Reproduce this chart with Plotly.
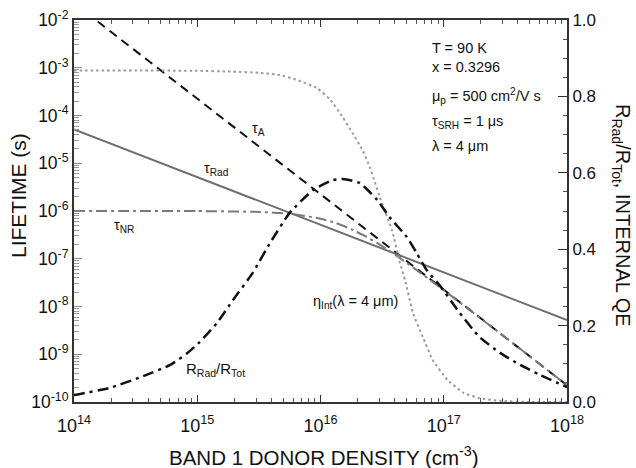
import plotly.graph_objects as go

# ---------------- data ----------------
# Auger lifetime tau_A (left axis, s) vs log10 donor density
tauA_logN = [14.0, 15.0, 16.0, 17.0, 18.0]
tauA_vals = [2.25e-2, 2.25e-4, 2.25e-6, 2.25e-8, 2.25e-10]

# radiative lifetime tau_Rad (left axis, s)
tauRad_logN = [14.0, 15.0, 16.0, 17.0, 18.0]
tauRad_vals = [5.1e-5, 5.1e-6, 5.1e-7, 5.1e-8, 5.2e-9]

# non-radiative lifetime tau_NR (left axis, s)
tauNR_logN = [14.0, 14.5, 15.0, 15.5, 15.75, 16.0, 16.125, 16.25, 16.375, 16.5,
              16.625, 16.75, 17.0, 17.5, 18.0]
tauNR_vals = [1.0e-6, 1.0e-6, 0.996e-6, 0.957e-6, 0.877e-6, 0.69e-6, 5.6e-7, 4.15e-7,
              2.86e-7, 1.84e-7, 1.12e-7, 6.6e-8, 2.2e-8, 2.25e-9, 2.25e-10]

# R_Rad / R_Tot (right axis)
ratio_logN = [14.0, 14.05, 14.29, 14.54, 14.78, 14.92, 15.02, 15.16, 15.29, 15.45,
              15.59, 15.75, 15.94, 16.10, 16.18, 16.32, 16.46, 16.56, 16.70, 16.78,
              16.86, 16.97, 17.13, 17.29, 17.46, 17.62, 17.78, 18.0]
ratio_vals = [0.018, 0.021, 0.037, 0.065, 0.097, 0.128, 0.157, 0.207, 0.267, 0.338,
              0.416, 0.495, 0.555, 0.581, 0.584, 0.573, 0.529, 0.484, 0.432, 0.390,
              0.346, 0.304, 0.233, 0.170, 0.128, 0.097, 0.071, 0.039]

# internal QE eta_Int (right axis)
eta_logN = [14.0, 14.5, 15.0, 15.27, 15.5, 15.67, 15.81, 15.97, 16.08, 16.18, 16.26,
            16.34, 16.40, 16.43, 16.48, 16.58, 16.645, 16.686, 16.75, 16.83, 16.91,
            17.03, 17.16, 17.29, 17.46, 17.70, 18.0]
eta_vals = [0.868, 0.868, 0.867, 0.865, 0.862, 0.856, 0.843, 0.822, 0.791, 0.746, 0.704,
            0.660, 0.615, 0.586, 0.537, 0.450, 0.364, 0.319, 0.233, 0.170, 0.110,
            0.058, 0.024, 0.010, 0.003, 0.0, 0.0]

# tick labels
x_tick_exp = [14, 15, 16, 17, 18]
x_tick_text = ["10<sup>14</sup>", "10<sup>15</sup>", "10<sup>16</sup>", "10<sup>17</sup>", "10<sup>18</sup>"]
y_tick_exp = [-10, -9, -8, -7, -6, -5, -4, -3, -2]
y_tick_text = ["10<sup>-10</sup>", "10<sup>-9</sup>", "10<sup>-8</sup>", "10<sup>-7</sup>", "10<sup>-6</sup>",
               "10<sup>-5</sup>", "10<sup>-4</sup>", "10<sup>-3</sup>", "10<sup>-2</sup>"]
y2_tick_vals = [0.0, 0.2, 0.4, 0.6, 0.8, 1.0]
y2_tick_text = ["0.0", "0.2", "0.4", "0.6", "0.8", "1.0"]

# ---------------- figure ----------------
W, H = 636, 468
L, R, T, B = 74, 567, 20, 402  # plot area in px
FONT = "Liberation Sans, Arial, sans-serif"


def px2paper(px, py):
    return (px - L) / (R - L), (B - py) / (B - T)


def N(logs):
    return [10 ** v for v in logs]


fig = go.Figure()

fig.add_trace(go.Scatter(x=N(tauA_logN), y=tauA_vals, mode="lines",
                         line=dict(color="#111111", width=2, dash="9px,6px"), yaxis="y"))
fig.add_trace(go.Scatter(x=N(tauRad_logN), y=tauRad_vals, mode="lines",
                         line=dict(color="#6e6e6e", width=2), yaxis="y"))
fig.add_trace(go.Scatter(x=N(tauNR_logN), y=tauNR_vals, mode="lines",
                         line=dict(color="#7a7a7a", width=2, dash="11px,4px,3px,4px", shape="spline", smoothing=0.5),
                         yaxis="y"))
fig.add_trace(go.Scatter(x=N(eta_logN), y=eta_vals, mode="lines",
                         line=dict(color="#9a9a9a", width=2, dash="2.5px,3px", shape="spline", smoothing=0.4),
                         yaxis="y2"))
fig.add_trace(go.Scatter(x=N(ratio_logN), y=ratio_vals, mode="lines",
                         line=dict(color="#111111", width=2.5, dash="11px,5px,3px,5px", shape="spline", smoothing=0.5),
                         yaxis="y2"))

x_minor = [m * 10 ** e for e in range(14, 18) for m in range(2, 10)]
y_minor = [m * 10 ** e for e in range(-10, -2) for m in range(2, 10)]
y2_minor = [round(0.05 * i, 2) for i in range(21)]

axis_col = "#333333"
fig.update_layout(
    width=W, height=H,
    margin=dict(l=L, r=W - R, t=T, b=H - B, pad=0, autoexpand=False),
    paper_bgcolor="white", plot_bgcolor="white",
    showlegend=False,
    font=dict(family=FONT, color="#111111"),
    xaxis=dict(type="log", range=[14, 18], automargin=False,
               tickvals=N(x_tick_exp), ticktext=x_tick_text, tickmode="array",
               ticks="inside", ticklen=7, tickwidth=1, tickcolor=axis_col, ticklabelstandoff=6,
               minor=dict(tickvals=x_minor, ticks="inside", ticklen=4, tickwidth=1, tickcolor="#555555"),
               showline=True, linecolor=axis_col, linewidth=2, mirror="ticks",
               showgrid=False, zeroline=False, tickfont=dict(size=18, family=FONT, color="#111111")),
    yaxis=dict(type="log", range=[-10, -2], automargin=False,
               tickvals=N(y_tick_exp), ticktext=y_tick_text, tickmode="array",
               ticks="inside", ticklen=8, tickwidth=1, tickcolor="#8a8a8a",
               minor=dict(tickvals=y_minor, ticks="inside", ticklen=5, tickwidth=1, tickcolor="#9a9a9a"),
               showline=True, linecolor=axis_col, linewidth=2,
               showgrid=False, zeroline=False, tickfont=dict(size=17.5, family=FONT, color="#111111")),
    yaxis2=dict(overlaying="y", side="right", range=[0, 1], automargin=False,
                tickvals=y2_tick_vals, ticktext=y2_tick_text, tickmode="array",
                ticks="inside", ticklen=9, tickwidth=1, tickcolor=axis_col,
                minor=dict(tickvals=y2_minor, ticks="inside", ticklen=4, tickwidth=1, tickcolor="#555555"),
                showline=True, linecolor=axis_col, linewidth=2,
                showgrid=False, zeroline=False, tickfont=dict(size=17, family=FONT, color="#111111")),
)

anns = []


def add_text(text, px, py, size, xanchor="center", angle=0):
    x, y = px2paper(px, py)
    anns.append(dict(text=text, x=x, y=y, xref="paper", yref="paper", showarrow=False,
                     xanchor=xanchor, yanchor="middle", textangle=angle,
                     font=dict(size=size, family=FONT, color="#111111")))


# axis titles
add_text("LIFETIME (s)", 18, 196, 21, angle=-90)
add_text("BAND 1 DONOR DENSITY (cm<sup>-3</sup>)", 324, 456, 20.5)
add_text("R<sub>Rad</sub>/R<sub>Tot</sub>, INTERNAL QE", 622, 215, 20, angle=90)

# curve labels
add_text("τ<sub>A</sub>", 258, 129, 14.5)
add_text("τ<sub>Rad</sub>", 216, 169, 14.5)
add_text("τ<sub>NR</sub>", 124, 226, 14.5)
add_text("R<sub>Rad</sub>/R<sub>Tot</sub>", 215, 369, 15)
add_text("η<sub>Int</sub>(λ = 4 μm)", 355, 302, 14.5)

# parameter block
add_text("T = 90 K", 430, 48, 14.5, xanchor="left")
add_text("x = 0.3296", 430, 67, 14.5, xanchor="left")
add_text("μ<sub>p</sub> = 500 cm<sup>2</sup>/V s", 430, 96, 14.5, xanchor="left")
add_text("τ<sub>SRH</sub> = 1 μs", 430, 122, 14.5, xanchor="left")
add_text("λ = 4 μm", 430, 146, 14.5, xanchor="left")

fig.update_layout(annotations=anns)
fig.write_html("out.html", config={"displayModeBar": False},
               post_script="document.body.style.margin='0px';document.body.style.padding='0px';")
